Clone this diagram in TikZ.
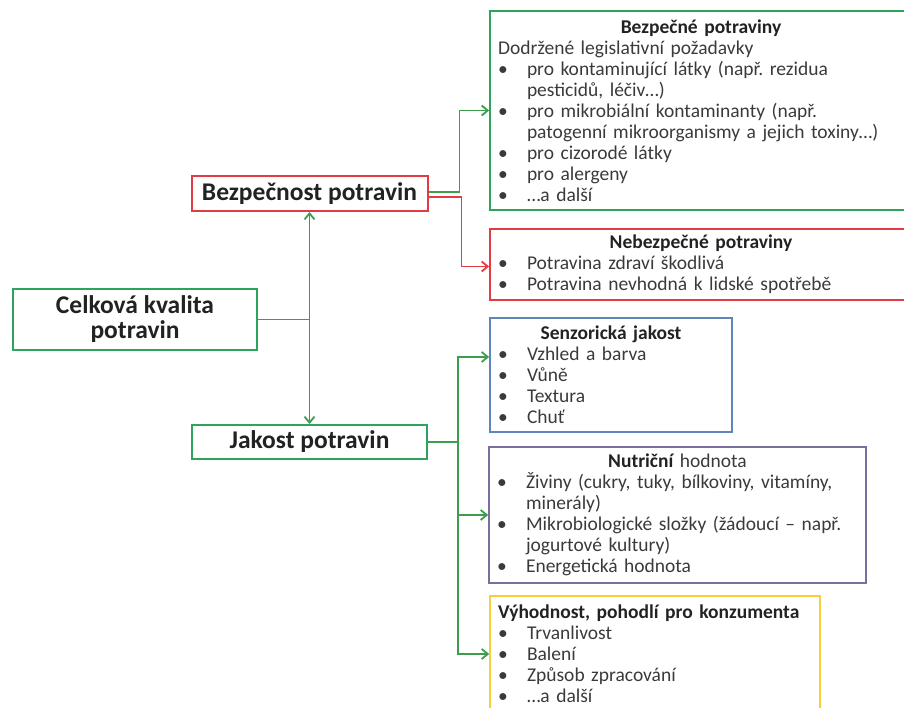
\documentclass[tikz,border=0pt]{standalone}
\usepackage{fontspec}
\setmainfont{Carlito}
\usetikzlibrary{arrows.meta}
\definecolor{zelbox}{HTML}{2FA35C}
\definecolor{zelcara}{HTML}{3C9E4C}
\definecolor{cervena}{HTML}{E23B43}
\definecolor{modra}{HTML}{5E86B8}
\definecolor{fialova}{HTML}{7B6E9C}
\definecolor{zluta}{HTML}{F6CF3B}
\definecolor{titul}{HTML}{222222}
\definecolor{telo}{HTML}{3A3A3A}
\newcommand{\odr}{\par\noindent\hangindent=29pt\hangafter=1\makebox[29pt][l]{\hspace{0pt}\textbullet}}
\newcommand{\nadpis}[1]{{\centering\bfseries\color{titul}#1\par}}
\frenchspacing

\begin{document}
\begin{tikzpicture}[x=1pt,y=-1pt,>={Straight Barb[length=6pt,width=10pt]}]
\tikzstyle{hlavni}=[draw,line width=2pt,font=\fontsize{25.5}{25}\selectfont\bfseries,text=titul,align=center,inner sep=0pt]
\tikzstyle{obsah}=[draw,line width=1.8pt,font=\fontsize{19.5}{21}\selectfont,text=telo,align=left,inner xsep=8pt,inner ysep=0pt]
\tikzstyle{spoj}=[line width=1.8pt,draw=zelcara]
\useasboundingbox (0,0) rectangle (904,708);
\clip (0,0) rectangle (904,708);
% leva cast
\path (309.5,193.5) node[hlavni,draw=cervena,minimum width=236pt,minimum height=35pt](bezpecnost){Bezpečnost potravin}
      (135,319.5) node[hlavni,draw=zelbox,minimum width=244pt,minimum height=61pt](celkova){Celková kvalita\\potravin}
      (309.5,442) node[hlavni,draw=zelbox,minimum width=235pt,minimum height=34pt](jakost){Jakost potravin};
% prava cast
\path (701,110.5) node[obsah,draw=zelbox,minimum width=422pt,minimum height=199pt,text width=406pt](bezpecne){%
\nadpis{Bezpečné potraviny}
\noindent Dodržené legislativní požadavky
\odr pro kontaminující látky (např. rezidua\newline pesticidů, léčiv…)
\odr pro mikrobiální kontaminanty (např.\newline patogenní mikroorganismy a jejich toxiny…)
\odr pro cizorodé látky
\odr pro alergeny
\odr …a další};
\path (701,264.5) node[obsah,draw=cervena,minimum width=422pt,minimum height=71pt,text width=406pt](nebezpecne){%
\nadpis{Nebezpečné potraviny}
\odr Potravina zdraví škodlivá
\odr Potravina nevhodná k lidské spotřebě};
\path (611,375) node[obsah,draw=modra,minimum width=242pt,minimum height=114pt,text width=226pt](senzor){%
\nadpis{Senzorická jakost}
\odr Vzhled a barva
\odr Vůně
\odr Textura
\odr Chuť};
\path (677.5,515) node[obsah,draw=fialova,minimum width=377pt,minimum height=136pt,text width=361pt](nutricni){%
{\centering{\bfseries\color{titul}Nutriční} hodnota\par}
\odr Živiny (cukry, tuky, bílkoviny, vitamíny,\newline minerály)
\odr Mikrobiologické složky (žádoucí – např.\newline jogurtové kultury)
\odr Energetická hodnota};
\path (655,654) node[obsah,draw=zluta,minimum width=330pt,minimum height=116pt,text width=314pt](vyhodnost){%
\noindent{\bfseries\color{titul}Výhodnost, pohodlí pro konzumenta}
\odr Trvanlivost
\odr Balení
\odr Způsob zpracování
\odr …a další};
% spojnice
\draw[spoj] (celkova) -- (celkova -| bezpecnost);
\draw[spoj,<->] (bezpecnost) -- (jakost);
\draw[spoj,->] ([yshift=1.5pt]bezpecnost.east) -- ++(31,0) |- (bezpecne);
\draw[spoj,draw=cervena,->] ([yshift=-3.5pt]bezpecnost.east) -- ++(33,0) |- ([yshift=-2pt]nebezpecne.west);
\coordinate (rozv) at (458,442);
\draw[spoj] (jakost) -- (rozv);
\draw[spoj,->] (rozv) |- ([yshift=18pt]senzor.west);
\draw[spoj,->] (rozv) |- (nutricni);
\draw[spoj,->] (rozv) |- (vyhodnost);
\end{tikzpicture}
\end{document}
